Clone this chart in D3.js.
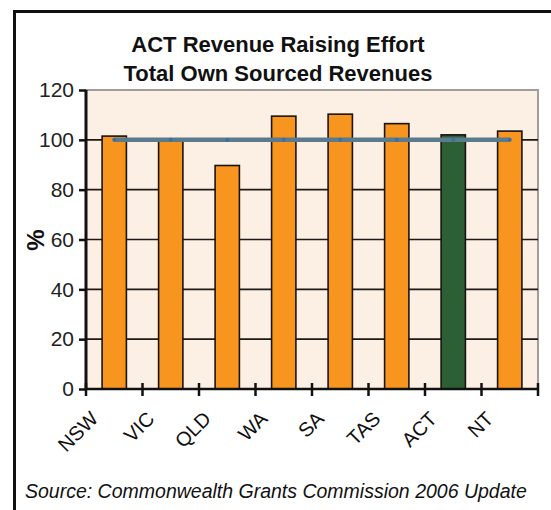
<!DOCTYPE html>
<html>
<head>
<meta charset="utf-8">
<script src="https://cdn.jsdelivr.net/npm/d3@7"></script>
<style>
  body { margin: 0; background: #fff; }
  text { font-family: "Liberation Sans", Arial, sans-serif; }
</style>
</head>
<body>
<div id="chart"></div>
<script>
// values
var states = ['NSW', 'VIC', 'QLD', 'WA', 'SA', 'TAS', 'ACT', 'NT'];
var effort = [101.5, 99.5, 89.7, 109.5, 110.3, 106.5, 102, 103.5];
var average = [100, 100, 100, 100, 100, 100, 100, 100];
var yTicks = [0, 20, 40, 60, 80, 100, 120];
var titleLines = ['ACT Revenue Raising Effort', 'Total Own Sourced Revenues'];
var sourceNote = 'Source:  Commonwealth Grants Commission 2006 Update';

var svg = d3.select('#chart').append('svg')
    .attr('width', 551)
    .attr('height', 510),
  margin = {top: 90, right: 13, bottom: 121, left: 86},
  width = 551 - margin.left - margin.right,
  height = 510 - margin.top - margin.bottom;

// outer frame
svg.append('path')
  .attr('d', 'M14.5,520 V11.5 H560')
  .attr('fill', 'none')
  .attr('stroke', '#111')
  .attr('stroke-width', 3);

svg.selectAll('.title')
  .data(titleLines)
  .enter().append('text')
  .attr('class', 'title')
  .attr('x', 278)
  .attr('y', function(d, i) { return 52 + i * 29; })
  .attr('text-anchor', 'middle')
  .style('font-size', '22px')
  .style('font-weight', 'bold')
  .attr('fill', '#111')
  .text(function(d) { return d; });

var g = svg.append('g').attr('transform', 'translate(' + margin.left + ',' + margin.top + ')');

var x = d3.scaleBand().domain(states).range([0, width]).paddingInner(0.57).paddingOuter(0.285);
var xb = d3.scaleLinear().domain([0, states.length]).range([0, width]);
var y = d3.scaleLinear().domain([0, 120]).range([height, 0]);

// plot background
g.append('rect')
  .attr('width', width)
  .attr('height', height)
  .attr('fill', '#fcefe3')
  .attr('stroke', '#a49c98')
  .attr('stroke-width', 2);

// gridlines
g.selectAll('.grid')
  .data(yTicks.filter(function(d) { return d > 0 && d < 120; }))
  .enter().append('line')
  .attr('class', 'grid')
  .attr('x1', 0)
  .attr('x2', width)
  .attr('y1', function(d) { return y(d); })
  .attr('y2', function(d) { return y(d); })
  .attr('stroke', '#1e1a18')
  .attr('stroke-width', 1.6);

// bars
g.selectAll('.bar')
  .data(effort)
  .enter().append('rect')
  .attr('class', 'bar')
  .attr('x', function(d, i) { return x(states[i]); })
  .attr('width', x.bandwidth())
  .attr('y', function(d) { return y(d); })
  .attr('height', function(d) { return height - y(d); })
  .attr('fill', function(d, i) { return states[i] === 'ACT' ? '#2d5f35' : '#f7951f'; })
  .attr('stroke', '#1a1410')
  .attr('stroke-width', 1.6);

// average line
var line = d3.line()
  .x(function(d, i) { return x(states[i]) + x.bandwidth() / 2; })
  .y(function(d) { return y(d); });

g.append('path')
  .attr('d', line(average))
  .attr('fill', 'none')
  .attr('stroke', '#5a7b8d')
  .attr('stroke-width', 4.5);

g.selectAll('.dot')
  .data(average)
  .enter().append('circle')
  .attr('class', 'dot')
  .attr('cx', function(d, i) { return x(states[i]) + x.bandwidth() / 2; })
  .attr('cy', function(d) { return y(d); })
  .attr('r', 2)
  .attr('fill', '#3d6ea0');

// y axis
var yAxis = g.append('g')
  .call(d3.axisLeft(y).tickValues(yTicks).tickSize(7).tickPadding(5));
yAxis.select('.domain').attr('stroke', '#111').attr('stroke-width', 3).attr('d', 'M0,' + height + 'V0');
yAxis.selectAll('.tick line').attr('stroke', '#111').attr('stroke-width', 2.5);
yAxis.selectAll('.tick text')
  .style('font-size', '21px')
  .attr('fill', '#222');

// x axis: line plus crossing ticks at the category boundaries
g.append('line')
  .attr('x1', 0)
  .attr('x2', width)
  .attr('y1', height)
  .attr('y2', height)
  .attr('stroke', '#111')
  .attr('stroke-width', 2.5);

g.selectAll('.xtick')
  .data(d3.range(states.length + 1))
  .enter().append('line')
  .attr('class', 'xtick')
  .attr('x1', function(d) { return xb(d); })
  .attr('x2', function(d) { return xb(d); })
  .attr('y1', height - 6)
  .attr('y2', height + 7)
  .attr('stroke', '#111')
  .attr('stroke-width', 2.5);

g.selectAll('.xlabel')
  .data(states)
  .enter().append('text')
  .attr('class', 'xlabel')
  .attr('transform', function(d) {
    return 'translate(' + (x(d) + x.bandwidth() / 2 - 15) + ',' + (height + 31) + ') rotate(-45)';
  })
  .attr('text-anchor', 'end')
  .style('font-size', '20px')
  .attr('fill', '#111')
  .text(function(d) { return d; });

svg.append('text')
  .attr('transform', 'translate(44,240) rotate(-90)')
  .attr('text-anchor', 'middle')
  .style('font-size', '24px')
  .style('font-weight', 'bold')
  .attr('fill', '#111')
  .text('%');

svg.append('text')
  .attr('x', 25)
  .attr('y', 498)
  .style('font-size', '19.5px')
  .style('font-style', 'italic')
  .attr('fill', '#111')
  .text(sourceNote);
</script>
</body>
</html>
